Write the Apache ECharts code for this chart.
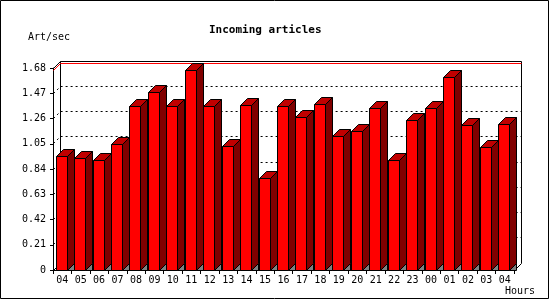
<!DOCTYPE html>
<html><head><meta charset="utf-8">
<script src="https://cdn.jsdelivr.net/npm/echarts@6/dist/echarts.min.js"></script>
<style>html,body{margin:0;padding:0;background:#fff}#c{width:550px;height:300px}</style>
</head><body><div id="c"></div>
<script>
var hours = ['04','05','06','07','08','09','10','11','12','13','14','15','16','17','18','19','20','21','22','23','00','01','02','03','04'];
var values = [0.94,0.93,0.91,1.04,1.36,1.48,1.36,1.66,1.36,1.03,1.37,0.76,1.36,1.27,1.38,1.11,1.15,1.34,0.91,1.24,1.34,1.60,1.20,1.02,1.21];
var yTicks = [0,0.21,0.42,0.63,0.84,1.05,1.26,1.47,1.68];
var titleText = 'Incoming articles';
var yName = 'Art/sec';
var xName = 'Hours';

var D = 7, FW = 11;
var FONT = 'DejaVu Sans Mono';
var yMax = yTicks[yTicks.length - 1];
var maxVal = Math.max.apply(null, values);
function h(v){ return Math.round(v - 0.5) + 0.5; }

var chart = echarts.init(document.getElementById('c'), null, {renderer: 'canvas'});

function wallsRender(params, api) {
  var cs = params.coordSys;
  var x0 = h(cs.x), y0 = h(cs.y), x1 = h(cs.x + cs.width), y1 = h(cs.y + cs.height);
  var ch = [];
  var blk = {stroke: '#000', lineWidth: 1, fill: null};
  // back wall and left wall outline
  ch.push({type: 'polyline', shape: {points: [[x0, y0], [x0 + D, y0 - D], [x1 + D, y0 - D], [x1 + D, y1 - D], [x1, y1]]}, style: blk});
  ch.push({type: 'line', shape: {x1: x0 + D, y1: y0 - D, x2: x0 + D, y2: y1 - D}, style: blk});
  ch.push({type: 'line', shape: {x1: x0, y1: y1, x2: x0 + D, y2: y1 - D}, style: blk});
  // dashed grid
  yTicks.forEach(function (t) {
    if (t <= 0 || t >= yMax) return;
    var y = h(api.coord([0, t])[1]);
    ch.push({type: 'polyline', shape: {points: [[x0, y], [x0 + D, y - D], [x1 + D, y - D]]},
      style: {stroke: '#000', lineWidth: 1, fill: null, lineDash: [2, 3]}});
  });
  // max line
  var ym = h(api.coord([0, maxVal])[1]);
  ch.push({type: 'polyline', shape: {points: [[x0, ym], [x0 + D, ym - D], [x1 + D, ym - D]]},
    style: {stroke: '#ff0000', lineWidth: 1, fill: null}});
  return {type: 'group', children: ch};
}

function barRender(params, api) {
  var i = api.value(0), v = api.value(1);
  var top = api.coord([i, v]);
  var base = api.coord([i, 0]);
  var fl = Math.round(top[0] - 6.5) + 0.5;
  var fr = fl + FW;
  var yt = h(top[1]);
  var yb = h(base[1]);
  var s = {stroke: '#000', lineWidth: 1};
  return {type: 'group', children: [
    {type: 'polygon', shape: {points: [[fr, yb], [fr + D, yb - D], [fr + D, yb]]}, style: Object.assign({fill: '#808080'}, s)},
    {type: 'polygon', shape: {points: [[fr, yt], [fr + D, yt - D], [fr + D, yb - D], [fr, yb]]}, style: Object.assign({fill: '#800000'}, s)},
    {type: 'polygon', shape: {points: [[fl, yt], [fl + D, yt - D], [fr + D, yt - D], [fr, yt]]}, style: Object.assign({fill: '#c00000'}, s)},
    {type: 'rect', shape: {x: fl, y: yt, width: FW, height: yb - yt}, style: Object.assign({fill: '#ff0000'}, s)}
  ]};
}

chart.setOption({
  animation: false,
  backgroundColor: '#fff',
  title: {text: titleText, left: 204, top: 20,
    textStyle: {fontFamily: FONT, fontSize: 11, fontWeight: 'bold', color: '#000'}},
  grid: {left: 53, right: 36, top: 68, bottom: 30},
  xAxis: {type: 'category', data: hours,
    axisLine: {lineStyle: {color: '#000', width: 1}},
    axisTick: {show: true, length: 4, lineStyle: {color: '#000'}},
    axisLabel: {interval: 0, fontFamily: FONT, fontSize: 10, color: '#000', margin: 5},
    splitLine: {show: false}},
  yAxis: {type: 'value', min: 0, max: yMax, interval: yTicks[1],
    axisLine: {show: true, lineStyle: {color: '#000', width: 1}},
    axisTick: {show: true, length: 3, lineStyle: {color: '#000'}},
    axisLabel: {fontFamily: FONT, fontSize: 10, color: '#000', margin: 7,
      formatter: function (v) { return v === 0 ? '0' : v.toFixed(2); }},
    splitLine: {show: false}},
  graphic: [
    {type: 'rect', shape: {x: 0.5, y: 0.5, width: 548, height: 298}, style: {fill: null, stroke: '#000', lineWidth: 1}, z: 100},
    {type: 'text', left: 28, top: 32, style: {text: yName, font: '10px "DejaVu Sans Mono"', fill: '#000'}},
    {type: 'text', left: 505, top: 286, style: {text: xName, font: '10px "DejaVu Sans Mono"', fill: '#000'}}
  ],
  series: [
    {type: 'custom', name: 'walls', renderItem: wallsRender, data: [[0, 0]], silent: true, clip: false},
    {type: 'custom', name: 'Art/sec', renderItem: barRender, data: values.map(function (v, i) { return [i, v]; }), clip: false}
  ]
});
</script>
</body></html>
